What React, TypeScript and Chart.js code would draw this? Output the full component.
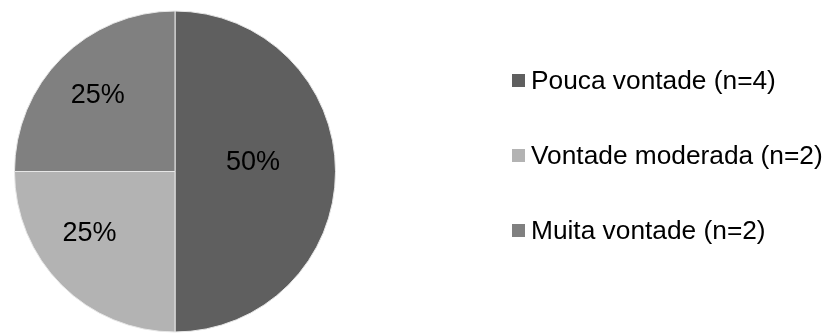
import React, { useEffect, useRef } from "react";
import { Chart, registerables } from "chart.js";

Chart.register(...registerables);

const categories = ["Pouca vontade (n=4)", "Vontade moderada (n=2)", "Muita vontade (n=2)"];
const values = [50, 25, 25];
const valueLabels = ["50%", "25%", "25%"];
const colors = ["#5f5f5f", "#b3b3b3", "#808080"];

// label placement (radial fraction of radius, angular offset in degrees)
const labelRadius = [0.49, 0.655, 0.68];
const labelAngleOffset = [-7.3, 9.5, 0];

const FONT = "'Liberation Sans', Arial, sans-serif";

const labelPlugin = {
  id: "sliceLabels",
  afterDatasetsDraw(chart: any) {
    const meta = chart.getDatasetMeta(0);
    const ctx = chart.ctx;
    ctx.save();
    ctx.font = `27px ${FONT}`;
    ctx.fillStyle = "#000000";
    ctx.textAlign = "center";
    ctx.textBaseline = "middle";
    meta.data.forEach((arc: any, i: number) => {
      const p = arc.getProps(["x", "y", "startAngle", "endAngle", "outerRadius"], true);
      const mid = (p.startAngle + p.endAngle) / 2 + (labelAngleOffset[i] * Math.PI) / 180;
      const r = p.outerRadius * labelRadius[i];
      ctx.fillText(valueLabels[i], p.x + Math.cos(mid) * r, p.y + Math.sin(mid) * r + 1);
    });
    ctx.restore();
  },
};

export default function App() {
  const ref = useRef<HTMLCanvasElement>(null);
  useEffect(() => {
    document.body.style.margin = "0";
    const chart = new Chart(ref.current!, {
      type: "pie",
      data: {
        labels: categories,
        datasets: [
          {
            data: values,
            backgroundColor: colors,
            borderColor: "#e6e6e6",
            borderWidth: 1,
          },
        ],
      },
      options: {
        animation: false,
        responsive: false,
        layout: { padding: { left: 14, right: 493, top: 10, bottom: 0 } },
        plugins: { legend: { display: false }, tooltip: { enabled: false } },
      },
      plugins: [labelPlugin],
    });
    return () => chart.destroy();
  }, []);

  return (
    <div style={{ position: "relative", width: 829, height: 333, overflow: "hidden", background: "#fff" }}>
      <canvas ref={ref} width={829} height={333} style={{ position: "absolute", left: 0, top: 0 }} />
      <div style={{ position: "absolute", left: 512, top: 66, fontFamily: FONT, fontSize: 26.3, color: "#000" }}>
        {categories.map((c, i) => (
          <div key={c} style={{ display: "flex", alignItems: "center", height: 28, marginBottom: i < categories.length - 1 ? 47 : 0, whiteSpace: "nowrap" }}>
            <span style={{ display: "inline-block", width: 13, height: 13, background: colors[i], marginRight: 6 }} />
            <span>{c}</span>
          </div>
        ))}
      </div>
    </div>
  );
}
